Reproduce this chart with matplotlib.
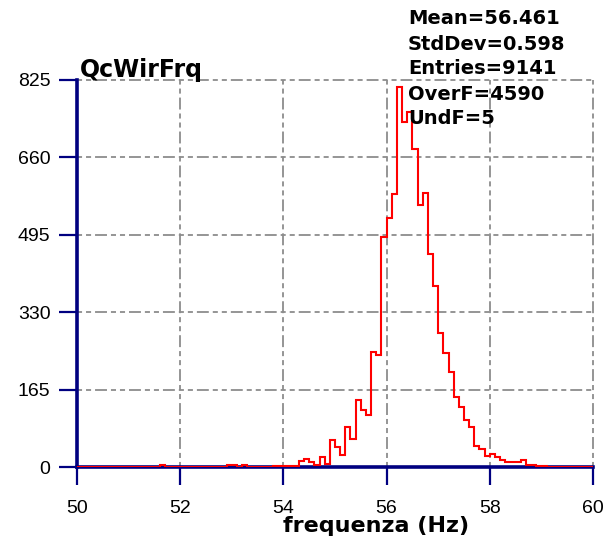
import numpy as np
import matplotlib
matplotlib.use("Agg")
import matplotlib.pyplot as plt
from matplotlib import font_manager

# histogram QcWirFrq: 100 bins of 0.1 Hz from 50 to 60
edges = np.linspace(50, 60, 101)
counts = [0, 0, 0, 0, 0, 0, 0, 0, 0, 0,          # 50.0 - 50.9
          0, 0, 0, 0, 0, 0, 4, 0, 0, 0,          # 51.0 - 51.9
          0, 0, 0, 0, 0, 0, 0, 0, 0, 4,          # 52.0 - 52.9
          4, 0, 4, 0, 0, 0, 0, 0, 3, 3,          # 53.0 - 53.9
          3, 3, 3, 12, 16, 10, 4, 21, 7, 57,     # 54.0 - 54.9
          43, 25, 85, 60, 142, 121, 110, 245, 238, 491,   # 55.0 - 55.9
          530, 582, 811, 736, 756, 678, 559, 585, 455, 386,  # 56.0 - 56.9
          285, 242, 203, 149, 128, 100, 85, 45, 38, 24,   # 57.0 - 57.9
          27, 21, 14, 11, 11, 11, 14, 5, 5, 3,   # 58.0 - 58.9
          3, 0, 0, 0, 0, 0, 0, 0, 0, 0]          # 59.0 - 59.9

xticks = [50, 52, 54, 56, 58, 60]
yticks = [0, 165, 330, 495, 660, 825]
hist_title = "QcWirFrq"
stats = ["Mean=56.461", "StdDev=0.598", "Entries=9141", "OverF=4590", "UndF=5"]
xlabel = "frequenza (Hz)"

navy = '#000080'
grid_col = '#8c8c8c'
grid_ls = (0, (2.8, 2.2, 2.8, 2.2, 6.6, 2.2))
W, H = 610, 544

# narrow font for the tick numbers if available
installed = {f.name for f in font_manager.fontManager.ttflist}
tick_font = 'Liberation Sans Narrow' if 'Liberation Sans Narrow' in installed else 'Liberation Sans'
tick_size = 16 if tick_font == 'Liberation Sans Narrow' else 14

fig = plt.figure(figsize=(W / 100, H / 100), dpi=100)
ax = fig.add_axes([77 / W, 1 - 467 / H, (593 - 77) / W, (467 - 80) / H])

# grid (dash-dot, not clipped so the frame lines at 825 and 60 show fully)
for y in yticks[1:]:
    ax.axhline(y, color=grid_col, lw=1.3, ls=grid_ls, clip_on=False, zorder=1)
for x in xticks[1:]:
    ax.axvline(x, color=grid_col, lw=1.3, ls=grid_ls, clip_on=False, zorder=1)

ax.stairs(counts, edges, color='red', lw=1.5, zorder=4)

ax.set_xlim(50, 60)
ax.set_ylim(0, 825)
ax.set_xticks(xticks)
ax.set_yticks(yticks)
ax.set_xticklabels([str(v) for v in xticks], family=tick_font, fontsize=tick_size)
ax.set_yticklabels([str(v) for v in yticks], family=tick_font, fontsize=tick_size)

for s in ['top', 'right']:
    ax.spines[s].set_visible(False)
for s in ['left', 'bottom']:
    ax.spines[s].set_color(navy)
    ax.spines[s].set_linewidth(2.6)
    ax.spines[s].set_zorder(3)
ax.tick_params(direction='out', length=13, width=1.6, color=navy)
ax.tick_params(axis='y', pad=6)
ax.tick_params(axis='x', pad=11)

fig.text(80 / W, 1 - 77 / H, hist_title, fontsize=17, fontweight='bold', va='baseline', ha='left')
for i, line in enumerate(stats):
    fig.text(408 / W, 1 - (19 + 25 * i) / H, line, fontsize=14, fontweight='bold',
             va='center', ha='left')
fig.text(376 / W, 1 - 526 / H, xlabel, fontsize=16, fontweight='bold', va='center', ha='center')

fig.savefig("out.png", dpi=100, facecolor='white')
